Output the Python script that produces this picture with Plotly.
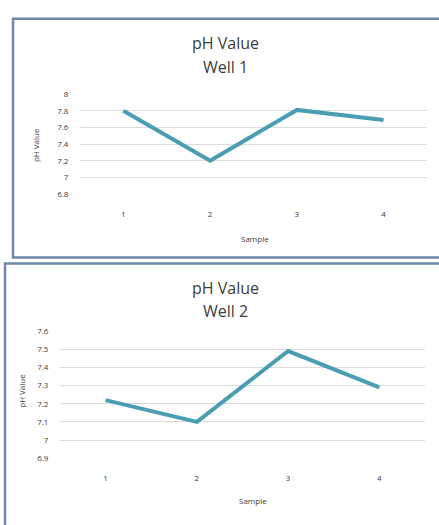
import plotly.graph_objects as go

# Sample readings for two wells
samples = [1, 2, 3, 4]
well1_ph = [7.8, 7.2, 7.81, 7.69]
well2_ph = [7.22, 7.1, 7.49, 7.29]

well1_ticks = [6.8, 7, 7.2, 7.4, 7.6, 7.8, 8]
well2_ticks = [6.9, 7, 7.1, 7.2, 7.3, 7.4, 7.5, 7.6]

W, H = 439, 525
LINE = "#4a9db3"
FRAME = "#7088aa"
GRID = "#dcdcdc"
TXT = "#3c3c3c"
FONT = "Open Sans"


def px_x(x):
    return x / W


def px_y(y):
    return (H - y) / H


fig = go.Figure()
fig.add_trace(go.Scatter(x=samples, y=well1_ph, mode="lines",
                         line=dict(color=LINE, width=4), xaxis="x", yaxis="y",
                         showlegend=False, hoverinfo="x+y"))
fig.add_trace(go.Scatter(x=samples, y=well2_ph, mode="lines",
                         line=dict(color=LINE, width=4), xaxis="x2", yaxis="y2",
                         showlegend=False, hoverinfo="x+y"))

common_x = dict(range=[0.5, 4.5], tickvals=samples, ticktext=[str(s) for s in samples],
                showgrid=False, zeroline=False, showline=False,
                ticks="outside", ticklen=12, tickcolor="rgba(0,0,0,0)",
                tickfont=dict(family=FONT, size=8, color=TXT), fixedrange=True)
common_y = dict(showgrid=True, gridcolor=GRID, gridwidth=1, zeroline=False,
                showline=False, ticks="outside", ticklen=9, tickcolor="rgba(0,0,0,0)",
                tickfont=dict(family=FONT, size=8, color=TXT), fixedrange=True)

fig.update_layout(
    width=W, height=H,
    margin=dict(l=0, r=0, t=0, b=0),
    paper_bgcolor="white", plot_bgcolor="white",
    xaxis=dict(domain=[px_x(80), px_x(427)], anchor="y", **common_x),
    yaxis=dict(domain=[px_y(192), px_y(90)], anchor="x", range=[6.8, 8],
               tickvals=well1_ticks, ticktext=["6.8", "7", "7.2", "7.4", "7.6", "7.8", "8"],
               **common_y),
    xaxis2=dict(domain=[px_x(60), px_x(425)], anchor="y2", **common_x),
    yaxis2=dict(domain=[px_y(462), px_y(332)], anchor="x2", range=[6.9, 7.6],
                tickvals=well2_ticks,
                ticktext=["6.9", "7", "7.1", "7.2", "7.3", "7.4", "7.5", "7.6"],
                **common_y),
    showlegend=False,
)

# Chart frames
fig.add_shape(type="rect", xref="paper", yref="paper",
              x0=px_x(13), x1=px_x(445), y0=px_y(257), y1=px_y(13),
              line=dict(color=FRAME, width=2.5), fillcolor="rgba(0,0,0,0)", layer="above")
fig.add_shape(type="rect", xref="paper", yref="paper",
              x0=px_x(5), x1=px_x(445), y0=px_y(535), y1=px_y(263),
              line=dict(color=FRAME, width=2.5), fillcolor="rgba(0,0,0,0)", layer="above")


def label(text, x, y, size, angle=0):
    fig.add_annotation(text=text, x=px_x(x), y=px_y(y), xref="paper", yref="paper",
                       showarrow=False, textangle=angle, xanchor="center", yanchor="middle",
                       font=dict(family=FONT, size=size, color=TXT))


# Titles
label("pH Value", 225, 38, 16)
label("Well 1", 225, 62, 16)
label("pH Value", 225, 288, 16)
label("Well 2", 225, 312, 16)

# Axis titles
label("Sample", 255, 237, 8)
label("pH Value", 35, 142, 8, -90)
label("Sample", 253, 505, 8)
label("pH Value", 22, 393, 8, -90)

fig.write_html("out.html")
